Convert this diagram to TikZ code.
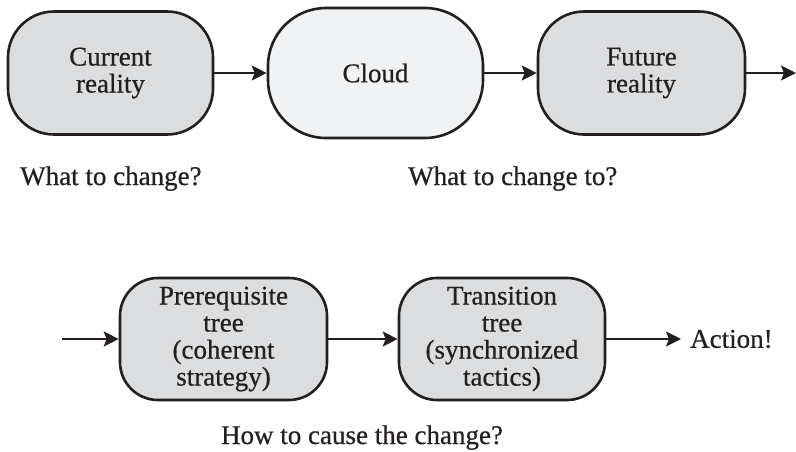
\documentclass[tikz,border=0pt]{standalone}
\usepackage{fontspec}
\setmainfont[FakeBold=0.6]{Liberation Serif}
\usetikzlibrary{arrows.meta, positioning}
\definecolor{tpgray}{HTML}{DCDDDF}
\definecolor{tplight}{HTML}{F1F2F4}
\definecolor{tpline}{HTML}{231F20}

\begin{document}
\begin{tikzpicture}[x=1pt, y=-1pt,
  stage/.style={rectangle, rounded corners=#1, draw=tpline, fill=tpgray,
                line width=2.6pt, inner sep=0pt, align=center,
                font=\fontsize{27}{27}\selectfont, text=tpline},
  flow/.style={-{Stealth[length=15pt, width=15pt, inset=3pt]}, line width=2.1pt, tpline},
  plain/.style={font=\fontsize{27}{28}\selectfont, text=tpline, inner sep=0pt}
]
\useasboundingbox (0,0) rectangle (796,451);

% Thinking process: top row
\node[stage=46pt, minimum width=205pt, minimum height=123pt] (current) at (110.5,73) {Current\\reality};
\node[stage=58pt, fill=tplight, minimum width=215pt, minimum height=130pt] (cloud) at (375.5,73) {Cloud};
\node[stage=46pt, minimum width=207pt, minimum height=123pt] (future) at (641.5,73) {Future\\reality};
\coordinate (topout) at (796,73);

\draw[flow] (current) -- (cloud);
\draw[flow] (cloud) -- (future);
\draw[flow] (future) -- (topout);

\node[plain, anchor=base west] (whatchange) at (20,185) {What to change?};
\node[plain, anchor=base west] (whatto) at (408,185) {What to change to?};

% Thinking process: bottom row
\coordinate (bottomin) at (62,339);
\node[stage=38pt, minimum width=207pt, minimum height=122pt] (prereq) at (223.5,339) {Prerequisite\\tree\\(coherent\\strategy)};
\node[stage=38pt, minimum width=206pt, minimum height=122pt] (transition) at (502,339) {Transition\\tree\\(synchronized\\tactics)};
\node[plain, anchor=west] (action) at (690,339) {Action!};

\draw[flow] (bottomin) -- (prereq);
\draw[flow] (prereq) -- (transition);
\draw[flow] (transition) -- ([xshift=-9pt]action.west);

\node[plain, anchor=base] (howcause) at (362,444) {How to cause the change?};

\end{tikzpicture}
\end{document}
